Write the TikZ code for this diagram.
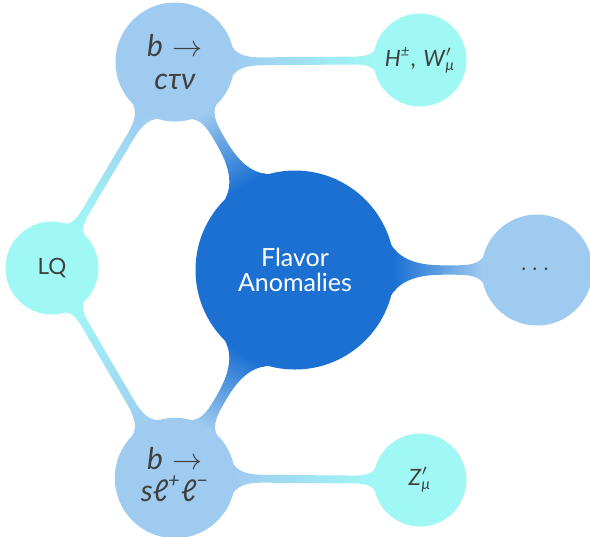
\documentclass[tikz,border=0pt]{standalone}
\usepackage{amsmath}
\usepackage{fontspec}
\setmainfont{Lato}
\usetikzlibrary{mindmap}
\definecolor{rootblue}{RGB}{27,112,210}
\definecolor{lblue}{RGB}{159,203,240}
\definecolor{lcyan}{RGB}{160,248,245}
\definecolor{txtgray}{RGB}{64,64,64}
\newcommand{\ita}[1]{\textit{#1}}
\newcommand{\supsub}[3]{$\text{\ita{#1}}^{\text{\ita{#2}}}_{\text{\ita{#3}}}$}
\newcommand{\primesub}[2]{$\text{\ita{#1}}'_{\text{\ita{#2}}}$}
\begin{document}
\begin{tikzpicture}[mindmap, x=0.4pt, y=-0.4pt,
  rootc/.style={concept, concept color=rootblue, minimum size=78.4pt, text width=70pt, inner sep=0pt, align=center, text=white, font=\fontsize{10}{10}\selectfont},
  midc/.style={concept, concept color=lblue, minimum size=46.4pt, text width=40pt, inner sep=0pt, align=center, text=txtgray, font=\fontsize{12}{13}\selectfont},
  leafc/.style={concept, concept color=lcyan, minimum size=36pt, text width=34pt, inner sep=0pt, align=center, text=txtgray, font=\fontsize{9}{9}\selectfont},
  bar/.style={line width=1mm}]
\useasboundingbox (0,0) rectangle (590,536);
\node[rootc] (root) at (295,270) {Flavor\\Anomalies};
\node[midc] (ctn) at (175,62) {\ita{b} $\rightarrow$\\\ita{cτν}};
\node[midc] (sll) at (175,478) {\ita{b} $\rightarrow$\\\ita{s}\supsub{ℓ}{+}{}\supsub{ℓ}{−}{}};
\node[midc, minimum size=43.2pt, font=\fontsize{10}{10}\selectfont] (dots) at (537,270) {$\cdots$};
\node[leafc] (lq) at (52,268) {LQ};
\node[leafc] (hw) at (420,60) {\supsub{H}{±}{}, \primesub{W}{μ}};
\node[leafc] (zp) at (420,480) {\primesub{Z}{μ}};
\path (root) to[bar, circle connection bar switch color=from (rootblue) to (lblue)] (ctn);
\path (root) to[bar, circle connection bar switch color=from (rootblue) to (lblue)] (sll);
\path (root) to[bar, circle connection bar switch color=from (rootblue) to (lblue)] (dots);
\path (ctn) to[bar, circle connection bar switch color=from (lblue) to (lcyan)] (hw);
\path (sll) to[bar, circle connection bar switch color=from (lblue) to (lcyan)] (zp);
\path (lq) to[bar, circle connection bar switch color=from (lcyan) to (lblue)] (ctn);
\path (lq) to[bar, circle connection bar switch color=from (lcyan) to (lblue)] (sll);
\end{tikzpicture}
\end{document}
